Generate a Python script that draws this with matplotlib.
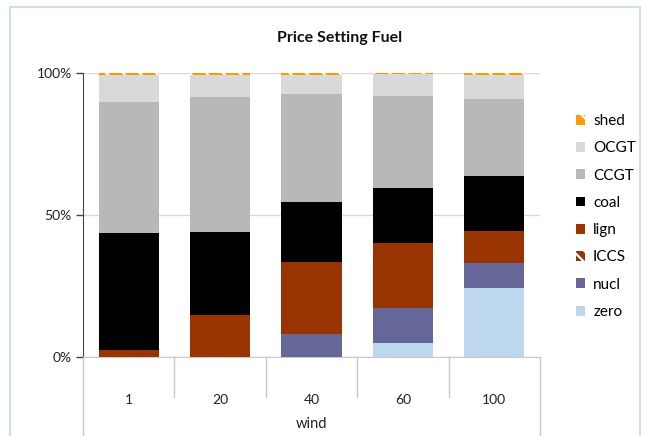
import matplotlib
matplotlib.use("Agg")
import matplotlib.pyplot as plt
from matplotlib.patches import Rectangle, Patch

plt.rcParams["font.family"] = ["Lato", "DejaVu Sans"]
plt.rcParams["hatch.linewidth"] = 1.6

categories = ["1", "20", "40", "60", "100"]
fuels = ["zero", "nucl", "ICCS", "lign", "coal", "CCGT", "OCGT", "shed"]

# share of hours each fuel sets the price, per wind level (fractions)
zero = [0.0, 0.0, 0.0, 0.047, 0.241]
nucl = [0.0, 0.0, 0.079, 0.124, 0.088]
iccs = [0.0, 0.0, 0.0, 0.0, 0.0]
lign = [0.023, 0.146, 0.254, 0.229, 0.113]
coal = [0.412, 0.292, 0.211, 0.193, 0.194]
ccgt = [0.461, 0.475, 0.380, 0.324, 0.271]
ocgt = [0.094, 0.077, 0.066, 0.077, 0.083]
shed = [0.010, 0.010, 0.010, 0.010, 0.010]

series = [zero, nucl, iccs, lign, coal, ccgt, ocgt, shed]
colors = ["#BDD7EE", "#666699", "#993300", "#993300", "#000000",
          "#B7B8BA", "#D9D9D9", "#FF9900"]
hatches = [None, None, "\\\\\\", None, None, None, None, "\\\\"]

fig = plt.figure(figsize=(6.47, 4.36), dpi=100)
ax = fig.add_axes([83 / 647, 79.5 / 436, 457 / 647, 284 / 436])

x = range(len(categories))
bottom = [0.0] * len(categories)
for name, vals, col, hat in zip(fuels, series, colors, hatches):
    if hat:
        ax.bar(x, vals, 0.66, bottom=bottom, color=col, edgecolor="white",
               hatch=hat, linewidth=0, zorder=3)
    else:
        ax.bar(x, vals, 0.66, bottom=bottom, color=col, linewidth=0, zorder=3)
    bottom = [b + v for b, v in zip(bottom, vals)]

ax.set_xlim(-0.5, len(categories) - 0.5)
ax.set_ylim(0, 1)
ax.set_yticks([0, 0.5, 1.0])
ax.set_yticklabels(["0%", "50%", "100%"], fontsize=10, color="#222222")
ax.tick_params(axis="y", length=5, width=1, color="#444444", pad=3)
ax.set_xticks([])
ax.yaxis.grid(True, color="#D9D9D9", linewidth=1, zorder=0)

for side in ["top", "right"]:
    ax.spines[side].set_visible(False)
ax.spines["left"].set_color("#444444")
ax.spines["bottom"].set_color("#C8C8C8")

# multi-level category axis: separators, labels and group name
tr = ax.get_xaxis_transform()
for i in range(len(categories) + 1):
    edge = i - 0.5
    low = -0.28 if i in (0, len(categories)) else -0.143
    ax.plot([edge, edge], [0, low], transform=tr, color="#C8C8C8",
            linewidth=1, clip_on=False)
for i, lab in enumerate(categories):
    ax.text(i, -0.153, lab, transform=tr, ha="center", va="center",
            fontsize=10, color="#222222")
ax.text(2, -0.236, "wind", transform=tr, ha="center", va="center",
        fontsize=10.5, color="#222222")

fig.text(340 / 647, 1 - 38 / 436, "Price Setting Fuel", ha="center",
         va="center", fontsize=11.5, fontweight="bold", color="#111111")

handles = []
for name, col, hat in zip(fuels, colors, hatches):
    if hat:
        handles.append(Patch(facecolor=col, edgecolor="white", hatch=hat,
                             linewidth=0, label=name))
    else:
        handles.append(Patch(facecolor=col, linewidth=0, label=name))
fig.legend(handles[::-1], fuels[::-1], loc="upper left",
           bbox_to_anchor=(576 / 647, 1 - 114 / 436), frameon=False,
           borderpad=0, borderaxespad=0, fontsize=11,
           handlelength=0.62, handleheight=0.62,
           handletextpad=0.5, labelspacing=0.87)

fig.patches.append(Rectangle((10 / 647, -0.05), 630 / 647, 1.05 - 7 / 436,
                             transform=fig.transFigure, fill=False,
                             edgecolor="#C6D9F1", linewidth=1.2))

fig.savefig("out.png", dpi=100)
